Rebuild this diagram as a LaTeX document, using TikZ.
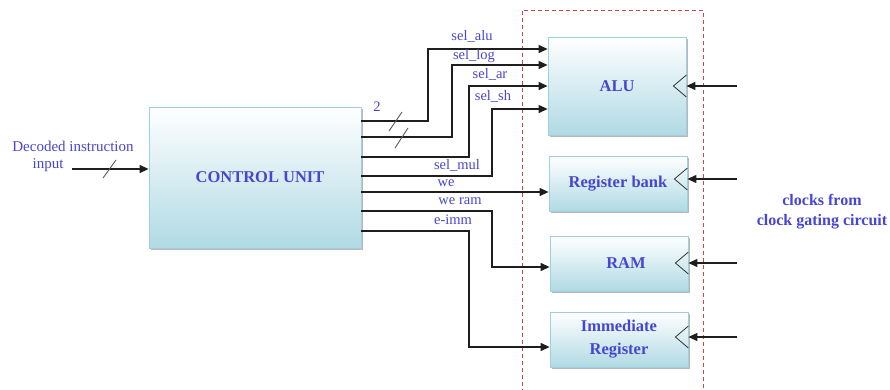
\documentclass[tikz,border=0pt]{standalone}
\usepackage{fontspec}
\setmainfont{Liberation Serif}
\usetikzlibrary{arrows.meta,shadows}
\definecolor{txtblue}{RGB}{70,70,210}
\definecolor{boxedge}{RGB}{160,208,222}
\definecolor{boxbot}{RGB}{176,218,228}
\definecolor{dashred}{RGB}{200,70,70}
\definecolor{wire}{RGB}{30,30,30}
\tikzset{
  blk/.style={draw=boxedge, line width=0.8pt, top color=white, bottom color=boxbot,
    drop shadow={shadow xshift=1.5pt, shadow yshift=-2pt, fill=gray!70, opacity=0.8},
    text=txtblue, font=\fontsize{16.5}{23}\selectfont\bfseries, inner sep=0pt, align=center},
  sig/.style={draw=wire, line width=1.2pt, -{Triangle[length=9pt,width=8pt]}},
  siglbl/.style={text=txtblue, font=\fontsize{14.5}{16}\selectfont, inner sep=0pt},
  slashmark/.style={draw=gray!70!black, line width=0.9pt},
  chev/.style={draw=gray!40!black, line width=0.8pt},
}
\begin{document}
\begin{tikzpicture}[x=1pt,y=-1pt]
\useasboundingbox (0,0) rectangle (890,389);
% dashed enclosure
\draw[dashred, line width=1pt, dash pattern=on 4pt off 3pt] (522,400) -- (522,10) -- (703,10) -- (703,400);

% blocks
\node[blk, minimum width=212pt, minimum height=141pt] (cu) at (255,177.5) {\hspace*{10pt}CONTROL UNIT};
\node[blk, minimum width=138pt, minimum height=98pt] (alu) at (617,86) {ALU};
\node[blk, minimum width=138pt, minimum height=55pt] (rb) at (618,183.5) {Register bank};
\node[blk, minimum width=138pt, minimum height=55pt] (ram) at (619,263.5) {\hspace*{14pt}RAM};
\node[blk, minimum width=138pt, minimum height=55pt] (imm) at (619,339.5) {Immediate\\Register};

% input
\node[siglbl, font=\fontsize{15}{16}\selectfont] (din1) at (73,146) {Decoded instruction};
\node[siglbl, font=\fontsize{15}{16}\selectfont] (din2) at (48,165) {input};
\coordinate (inp) at (72,169);
\draw[sig] (inp) -- (cu.west |- inp);
\draw[slashmark] (103,178) -- (116,160);

% signals
\draw[sig] (cu.east |- 0,121) -- (428,121) -- (428,49) -- (alu.west |- 0,49);
\draw[sig] (cu.east |- 0,137) -- (452,137) -- (452,65) -- (alu.west |- 0,65);
\draw[sig] (cu.east |- 0,157) -- (469,157) -- (469,86) -- (alu.west |- 0,86);
\draw[sig] (cu.east |- 0,176) -- (492,176) -- (492,109) -- (alu.west |- 0,109);
\draw[sig] (cu.east |- 0,192) -- (rb.west |- 0,192);
\draw[sig] (cu.east |- 0,211) -- (492,211) -- (492,267) -- (ram.west |- 0,267);
\draw[sig] (cu.east |- 0,231) -- (469,231) -- (469,347) -- (imm.west |- 0,347);

\draw[slashmark] (389,131) -- (402,112);
\draw[slashmark] (395,148) -- (408,128);

\node[siglbl] (n2) at (377,107) {2};
\node[siglbl] (lalu) at (472,36) {sel\_alu};
\node[siglbl] (llog) at (474,56) {sel\_log};
\node[siglbl] (lar) at (490,74) {sel\_ar};
\node[siglbl] (lsh) at (493,96) {sel\_sh};
\node[siglbl] (lmul) at (457,165) {sel\_mul};
\node[siglbl] (lwe) at (446,183) {we};
\node[siglbl] (lweram) at (460,201) {we ram};
\node[siglbl] (limm) at (453,220) {e-imm};

% clock chevrons and clock inputs
\foreach \b/\y in {alu/86, rb/179, ram/263, imm/337}{
  \draw[chev] (\b.east |- 0,\y) ++(0,-11) -- ++(-13,11) -- ++(13,11);
  \coordinate (ck\b) at (737,\y);
  \draw[sig] (ck\b) -- (\b.east |- ck\b);
}

\node[text=txtblue, font=\fontsize{16}{20}\selectfont\bfseries, align=center, inner sep=0pt] (clk) at (822,212) {clocks from\\clock gating circuit};
\end{tikzpicture}
\end{document}
